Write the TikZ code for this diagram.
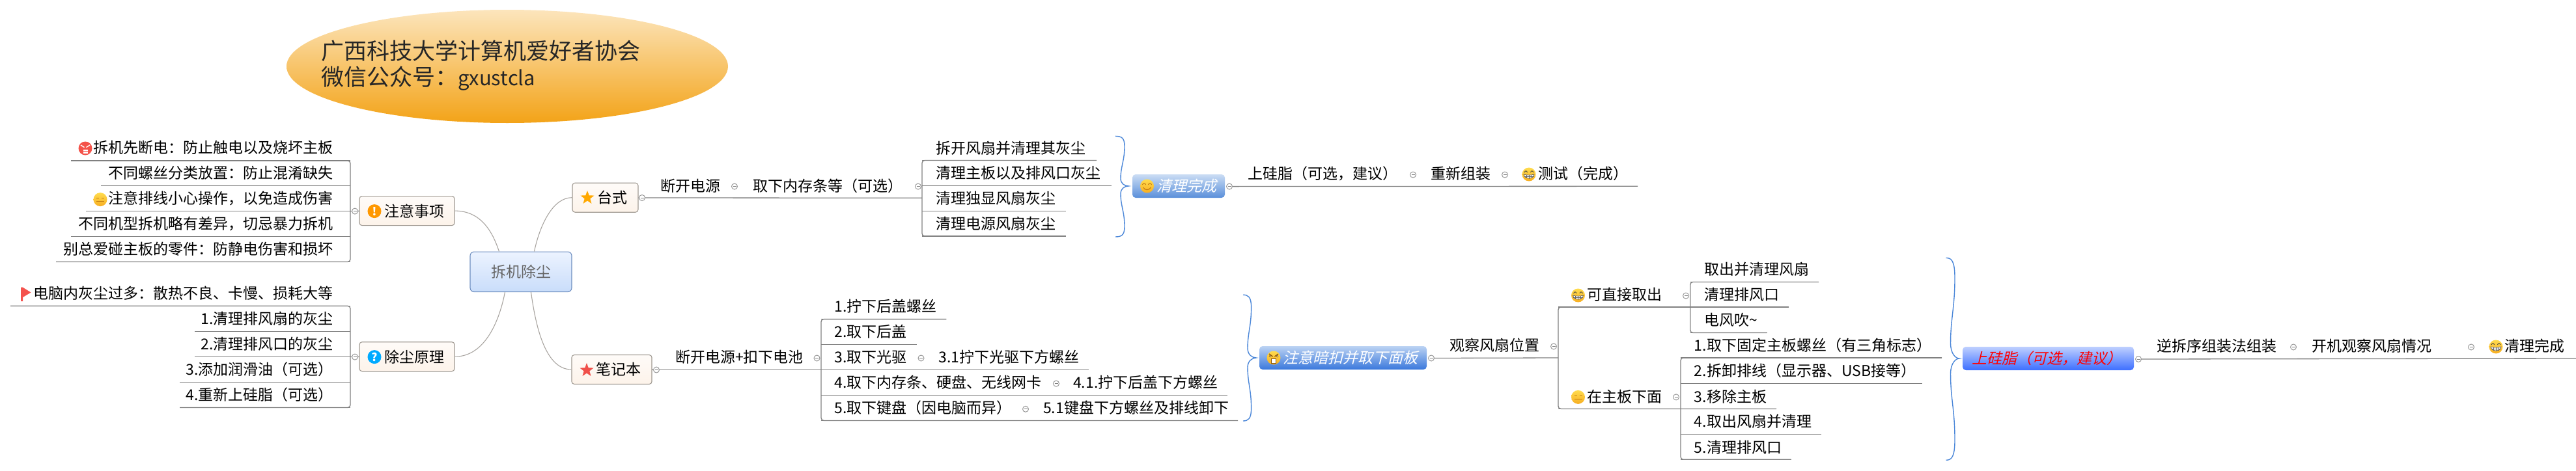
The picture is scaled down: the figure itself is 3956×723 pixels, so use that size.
\documentclass[tikz,border=0pt]{standalone}
\usepackage{fontspec}
\usetikzlibrary{shapes.geometric}
\setmainfont{Noto Sans CJK SC}
\newfontfamily\cjkit[FakeSlant=0.25]{Noto Sans CJK SC}
\definecolor{linegray}{HTML}{808080}
\definecolor{curvegray}{HTML}{A8A4A0}
\definecolor{bracecol}{HTML}{4A86D8}
\definecolor{boxedge}{HTML}{A09A92}
\definecolor{boxtop}{HTML}{FEFBF8}
\definecolor{boxbot}{HTML}{FDF3EA}
\definecolor{FaceT}{HTML}{FFDC4E}
\definecolor{FaceB}{HTML}{F7AE22}
\definecolor{FaceD}{HTML}{C07A10}
\definecolor{FaceR}{HTML}{F4534A}
\definecolor{TitleT}{HTML}{FCE5BC}
\definecolor{TitleB}{HTML}{F3A318}
\definecolor{CenE}{HTML}{6F8FC0}
\definecolor{CenT}{HTML}{ECF3FF}
\definecolor{CenB}{HTML}{C9DDFA}
\definecolor{IconO}{HTML}{FF9800}
\definecolor{IconB}{HTML}{00AAFF}
\definecolor{StarO}{HTML}{FFA800}
\definecolor{StarR}{HTML}{F0504A}
\definecolor{FlagR}{HTML}{F4534E}
\definecolor{BlueAT}{HTML}{CBDDF4}
\definecolor{BlueAB}{HTML}{5A8FDA}
\definecolor{BlueBT}{HTML}{BCD3F3}
\definecolor{BlueBB}{HTML}{3A78DC}
\definecolor{BlueCT}{HTML}{BFD0FF}
\definecolor{BlueCB}{HTML}{3D6FFF}
\newcommand\ttext{\fontsize{23pt}{28pt}\selectfont}
\tikzset{
  rowL/.style={anchor=west,inner sep=0pt,text=black,font=\ttext,text height=20pt,text depth=2.6pt},
  rowR/.style={rowL,anchor=east},
  branch/.style={draw=linegray,line width=1.3pt,rounded corners=4pt},
  curvelink/.style={draw=curvegray,line width=1.1pt},
  collapse/.style={circle,draw=gray!80,line width=1pt,fill=white,minimum size=9pt,inner sep=0pt,
    path picture={\draw[gray,line width=.8pt]([xshift=2pt]path picture bounding box.west)--([xshift=-2pt]path picture bounding box.east);}},
  topicbox/.style={rectangle,rounded corners=4pt,draw=boxedge,line width=1.1pt,top color=boxtop,bottom color=boxbot,inner sep=0pt,minimum height=45pt},
  bluebox/.style={rectangle,rounded corners=5pt,inner sep=0pt,minimum height=36pt},
  bracestyle/.style={draw=bracecol,line width=1.4pt},
  grinface/.pic={
     \shade[top color=FaceT,bottom color=FaceB] (0,0) circle (10.5pt);
     \draw[black!75,line width=.9pt] (-7,-3) .. controls (-5.5,-6) and (-3.5,-6) .. (-2.5,-3);
     \draw[black!75,line width=.9pt] (2.5,-3) .. controls (3.5,-6) and (5.5,-6) .. (7,-3);
     \fill[white,draw=black!70,line width=.6pt] (-8,0) .. controls (-4,1.5) and (4,1.5) .. (8,0) .. controls (7,8) and (-7,8) .. (-8,0) -- cycle;
     \draw[black!60,line width=.5pt] (-4,1) -- (-4,6) (0,1) -- (0,7) (4,1) -- (4,6) (-7.5,3) -- (7.5,3);
  },
  neutralface/.pic={
     \shade[top color=FaceT,bottom color=FaceB] (0,0) circle (10.5pt);
     \draw[FaceD,line width=1.1pt] (-6,-2) -- (-2,-2) (2,-2) -- (6,-2) (-6,3) -- (6,3);
  },
  happyface/.pic={
     \shade[top color=FaceT,bottom color=FaceB] (0,0) circle (10.5pt);
     \draw[FaceD,line width=1pt] (-7,-2) .. controls (-6,-5) and (-3,-5) .. (-2,-2);
     \draw[FaceD,line width=1pt] (2,-2) .. controls (3,-5) and (6,-5) .. (7,-2);
     \draw[FaceD,line width=1pt] (-6,2) .. controls (-3,7) and (3,7) .. (6,2);
  },
  madface/.pic={
     \shade[top color=FaceT,bottom color=FaceB] (0,0) circle (10.5pt);
     \draw[FaceD!70!black,line width=1.3pt] (-7,-6) -- (-1.5,-2) (7,-6) -- (1.5,-2);
     \fill[white,draw=FaceD!70!black,line width=.6pt] (-3.5,1) rectangle (3.5,8);
     \fill[white,draw=FaceD!70!black,line width=.6pt] (-5.5,-2.5) circle (1.5pt) (5.5,-2.5) circle (1.5pt);
  },
  redface/.pic={
     \fill[FaceR] (0,0) circle (10.5pt);
     \draw[white,line width=1.4pt] (-7,-5) -- (-1.5,-1.5) (7,-5) -- (1.5,-1.5);
     \fill[white] (-3.5,1.5) rectangle (3.5,7.5);
     \draw[FaceR,line width=.5pt] (-3.5,4.5) -- (3.5,4.5);
  },
}
\newcommand\tL[4]{\node[rowL] (#1) at (#2,#3) {#4};}
\newcommand\tR[4]{\node[rowR] (#1) at (#2,#3) {#4};}
\newcommand\ul[4]{\coordinate (#1a) at (#2,#4); \coordinate (#1b) at (#3,#4); \draw[branch] (#1a) -- (#1b);}
\newcommand\cp[3]{\node[collapse] (#1) at (#2,#3) {};}
\newcommand\curly[8]{%
  \pgfmathsetmacro\hu{#7-#3}\pgfmathsetmacro\hd{#8-#7}%
  \coordinate (#1tip) at (#6,#7);
  \draw[bracestyle] (#2,#3) .. controls (#4-5,#3) and (#4,#3+.03*\hu) .. (#4,#3+.2*\hu)
    .. controls (#4,#3+.5*\hu) and (#5,#3+.6*\hu) .. (#5,#3+.85*\hu)
    .. controls (#5,#3+.95*\hu) and (#6-6,#7) .. (#1tip)
    .. controls (#6-6,#7) and (#5,#7+.05*\hd) .. (#5,#7+.15*\hd)
    .. controls (#5,#7+.4*\hd) and (#4,#7+.5*\hd) .. (#4,#8-.2*\hd)
    .. controls (#4,#8-.03*\hd) and (#4-5,#8) .. (#2,#8);}
\begin{document}
\begin{tikzpicture}[x=1pt,y=-1pt]
\useasboundingbox (0,0) rectangle (3956,723);
% title
\node[ellipse,minimum width=678pt,minimum height=174pt,inner sep=0pt,top color=TitleT,bottom color=TitleB] (title) at (779,102) {};
\node[anchor=west,inner sep=0pt,align=left,text=black!85,font=\fontsize{35pt}{40pt}\selectfont] (titletext) at (493,101) {广西科技大学计算机爱好者协会\\微信公众号：{\fontsize{31pt}{40pt}\selectfont gxustcla}};
% central
\node[rectangle,rounded corners=6pt,draw=CenE,line width=1.1pt,top color=CenT,bottom color=CenB,minimum width=156pt,minimum height=61.5pt,inner sep=0pt,text=black!60,font=\ttext] (cen) at (800,417.8) {拆机除尘};
% main topics
\node[topicbox,minimum width=146pt] (zy) at (625,324.1) {};
\node[topicbox,minimum width=146pt] (cc) at (625,548.2) {};
\node[topicbox,minimum width=101pt] (tai) at (929.5,303.7) {};
\node[topicbox,minimum width=123pt] (bi) at (939.5,568) {};
\draw[curvelink] (zy.east) .. controls +(42,0) and +(-9,-27) .. ([xshift=45pt]cen.north west);
\draw[curvelink] (cc.east) .. controls +(47,0) and +(-8,42) .. ([xshift=54pt]cen.south west);
\draw[curvelink] (tai.west) .. controls +(-29,0) and +(9,-42) .. ([xshift=99pt]cen.north west);
\draw[curvelink] (bi.west) .. controls +(-43,0) and +(6,42) .. ([xshift=94pt]cen.south west);
% icons in topics
\fill[IconO] (575,324.6) circle (10.5pt);
\node[inner sep=0pt,text=white,font=\bfseries\fontsize{17pt}{17pt}\selectfont] (iconex) at (575,324.6) {!};
\fill[IconB] (575,548.6) circle (10.5pt);
\node[inner sep=0pt,text=white,font=\bfseries\fontsize{17pt}{17pt}\selectfont] (iconq) at (575,548.6) {?};
\tL{zyt}{590}{324.6}{注意事项}
\tL{cct}{590}{548.6}{除尘原理}
\node[star,star points=5,star point ratio=2.4,fill=StarO,inner sep=0pt,minimum size=22pt] (staro) at (902,304) {};
\node[star,star points=5,star point ratio=2.4,fill=StarR,inner sep=0pt,minimum size=22pt] (starr) at (901,569) {};
\tL{tait}{917}{304}{台式}
\tL{bit}{915}{568}{笔记本}
% left group 1
\ul{la}{109}{538}{247}
\ul{lb}{155}{538}{285.4}
\ul{lc}{132}{538}{324.6}
\ul{ld}{109}{538}{363.3}
\ul{le}{86}{538}{402.5}
\draw[branch] (laa) -- (lab) -- (leb) -- (lea);
\tR{l1}{512}{226.8}{拆机先断电：防止触电以及烧坏主板}
\tR{l2}{512}{266}{不同螺丝分类放置：防止混淆缺失}
\tR{l3}{512}{304.8}{注意排线小心操作，以免造成伤害}
\tR{l4}{512}{343.5}{不同机型拆机略有差异，切忌暴力拆机}
\tR{l5}{512}{382.7}{别总爱碰主板的零件：防静电伤害和损坏}
\pic at (131,228) {redface};
\pic at (154,306.6) {neutralface};
\cp{cl1}{545}{324.6}
\draw[branch] (cl1.west) -- (lcb);
\draw[branch] (cl1.east) -- (zy.west);
% left group 2
\ul{ma}{16}{538}{470.3}
\ul{mb}{299}{538}{509.5}
\ul{mc}{299}{538}{548.6}
\ul{md}{276}{538}{587.4}
\ul{me}{276}{538}{626.5}
\draw[branch] (maa) -- (mab) -- (meb) -- (mea);
\tR{m1}{512}{451}{电脑内灰尘过多：散热不良、卡慢、损耗大等}
\tR{m2}{512}{490}{1.清理排风扇的灰尘}
\tR{m3}{512}{529}{2.清理排风口的灰尘}
\tR{m4}{512}{568}{3.添加润滑油（可选）}
\tR{m5}{512}{607}{4.重新上硅脂（可选）}
\fill[FlagR] (32,441.7) rectangle (35,463) (35,441.7) -- (47.5,449.5) -- (35,457) -- cycle;
\cp{cl2}{545}{548.6}
\draw[branch] (cl2.west) -- (mcb);
\draw[branch] (cl2.east) -- (cc.west);
% desktop branch
\cp{ct}{986}{304}
\draw[branch] (ct.west) -- (tai.east);
\coordinate (tbr) at (1416,304.3);
\draw[branch] (ct.east) -- (tbr);
\tL{d1}{1014}{286}{断开电源}
\cp{cd1}{1128}{286.6}
\tL{d2}{1156}{286}{取下内存条等（可选）}
\cp{cd2}{1410}{286.6}
\ul{da}{1416}{1684}{246.5}
\ul{db}{1416}{1707}{285.3}
\ul{dc}{1416}{1636.5}{324.4}
\ul{dd}{1416}{1636.5}{363}
\draw[branch] (dab) -- (daa) -- (dda) -- (ddb);
\tL{d3}{1437}{227.4}{拆开风扇并清理其灰尘}
\tL{d4}{1437}{266}{清理主板以及排风口灰尘}
\tL{d5}{1437}{305}{清理独显风扇灰尘}
\tL{d6}{1437}{344}{清理电源风扇灰尘}
\curly{ba}{1713}{209.4}{1727}{1721}{1733}{286}{364}
\node[bluebox,minimum width=142pt,top color=BlueAT,bottom color=BlueAB] (bxa) at (1810,286) {};
\pic at (1761.5,286) {happyface};
\node[rowL,text=white,font=\cjkit\ttext] (bxat) at (1776,286) {清理完成};
\cp{cxa}{1888}{286.6}
\coordinate (dend) at (2515,286.3);
\draw[branch] (cxa.east) -- (dend);
\tL{d7}{1916}{266.6}{上硅脂（可选，建议）}
\cp{cd3}{2170}{268.6}
\tL{d8}{2197}{267}{重新组装}
\cp{cd4}{2311}{268.6}
\pic at (2348,268) {grinface};
\tL{d9}{2362}{267}{测试（完成）}
% laptop branch
\cp{cb}{1008}{568.5}
\draw[branch] (cb.west) -- (bi.east);
\coordinate (bbr) at (1261,568.5);
\draw[branch] (cb.east) -- (bbr);
\tL{n0}{1037}{548.8}{断开电源+扣下电池}
\cp{cn0}{1254.5}{550.5}
\ul{na}{1261}{1453.4}{490.6}
\ul{nb}{1261}{1408}{529.4}
\ul{nc}{1261}{1671.6}{568.5}
\ul{nd}{1261}{1885}{607.6}
\ul{ne}{1261}{1901}{646.4}
\draw[branch] (nab) -- (naa) -- (nea) -- (neb);
\tL{n1}{1281.5}{470.9}{1.拧下后盖螺丝}
\tL{n2}{1281.5}{509.6}{2.取下后盖}
\tL{n3}{1281.5}{548.8}{3.取下光驱}
\cp{cn3}{1414.5}{550.5}
\tL{n31}{1441.5}{548.8}{3.1拧下光驱下方螺丝}
\tL{n4}{1281.5}{587.9}{4.取下内存条、硬盘、无线网卡}
\cp{cn4}{1622}{589.6}
\tL{n41}{1648}{587.9}{4.1.拧下后盖下方螺丝}
\tL{n5}{1281.5}{626.7}{5.取下键盘（因电脑而异）}
\cp{cn5}{1575}{628.8}
\tL{n51}{1602}{626.7}{5.1键盘下方螺丝及排线卸下}
\curly{bb}{1909}{453.2}{1921.6}{1916}{1929}{550}{647}
\node[bluebox,minimum width=257pt,top color=BlueBT,bottom color=BlueBB] (bxb) at (2062.5,550) {};
\pic at (1956,550) {madface};
\node[rowL,text=white,font=\cjkit\ttext] (bxbt) at (1970,550) {注意暗扣并取下面板};
\cp{cxb}{2198}{550.5}
\coordinate (obr) at (2393,550);
\draw[branch] (cxb.east) -- (obr);
\tL{o0}{2226}{530.8}{观察风扇位置}
\cp{co0}{2386}{532.5}
\ul{pa}{2393}{2747}{472}
\ul{pb}{2393}{2728}{628.4}
\draw[branch] (pab) -- (paa) -- (pba) -- (pbb);
\pic at (2423.5,454) {grinface};
\tL{p1}{2437}{452.9}{可直接取出}
\cp{cp1}{2589}{454.6}
\ul{qa}{2595.7}{2793}{433.5}
\ul{qb}{2595.7}{2713.6}{511.4}
\draw[branch] (qab) -- (qaa) -- (qba) -- (qbb);
\tL{q1}{2617}{414}{取出并清理风扇}
\tL{q2}{2617}{453}{清理排风口}
\tL{q3}{2617}{492}{电风吹\textasciitilde}
\pic at (2423.5,610.4) {neutralface};
\tL{p2}{2437}{609.4}{在主板下面}
\cp{cp2}{2574}{610.4}
\ul{ra}{2581}{2982}{550}
\ul{rb}{2581}{2952}{589.3}
\ul{rc}{2581}{2728}{628.4}
\ul{rd}{2581}{2796.6}{667.2}
\ul{re}{2581}{2750.6}{706.3}
\draw[branch] (rab) -- (raa) -- (rea) -- (reb);
\tL{r1}{2601.7}{530.8}{1.取下固定主板螺丝（有三角标志）}
\tL{r2}{2601.7}{570}{2.拆卸排线（显示器、USB接等）}
\tL{r3}{2601.7}{609.4}{3.移除主板}
\tL{r4}{2601.7}{648}{4.取出风扇并清理}
\tL{r5}{2601.7}{687.3}{5.清理排风口}
\curly{bc}{2988.5}{396.4}{3002}{2995.5}{3009}{551}{707.3}
\node[bluebox,minimum width=263pt,top color=BlueCT,bottom color=BlueCB] (bxc) at (3145.5,551) {};
\node[rowL,text=red,font=\cjkit\ttext] (bxct) at (3028,550.5) {上硅脂（可选，建议）};
\cp{cxc}{3284}{552}
\coordinate (rend) at (3956,551);
\draw[branch] (cxc.east) -- (rend);
\tL{s1}{3312}{532}{逆拆序组装法组装}
\cp{cs1}{3522}{533.5}
\tL{s2}{3550}{532}{开机观察风扇情况}
\cp{cs2}{3795}{533.5}
\pic at (3833,533) {grinface};
\tL{s3}{3846}{532}{清理完成}
\end{tikzpicture}
\end{document}
